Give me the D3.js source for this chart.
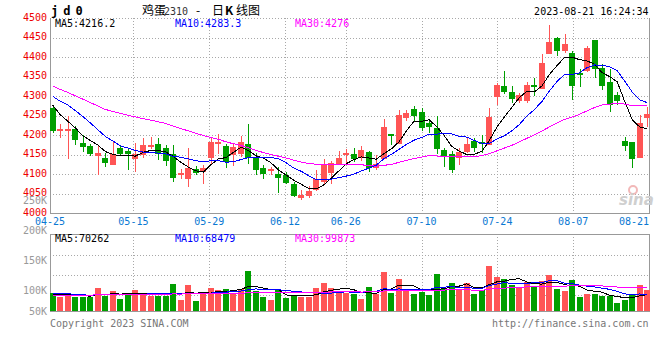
<!DOCTYPE html>
<html><head><meta charset="utf-8">
<script src="https://cdn.jsdelivr.net/npm/d3@7"></script>
<style>body{margin:0;background:#fff}svg{display:block}</style>
</head><body><svg id="c" width="660" height="360"></svg>
<script>
// ---------- data ----------
const dates = ['04-25','04-26','04-27','04-28','05-04','05-05','05-08','05-09','05-10','05-11','05-12',
 '05-15','05-16','05-17','05-18','05-19','05-22','05-23','05-24','05-25','05-26','05-29','05-30','05-31',
 '06-01','06-02','06-05','06-06','06-07','06-08','06-09','06-12','06-13','06-14','06-15','06-16',
 '06-19','06-20','06-21','06-26','06-27','06-28','06-29','06-30','07-03','07-04','07-05','07-06','07-07',
 '07-10','07-11','07-12','07-13','07-14','07-17','07-18','07-19','07-20','07-21','07-24','07-25','07-26',
 '07-27','07-28','07-31','08-01','08-02','08-03','08-04','08-07','08-08','08-09','08-10','08-11',
 '08-14','08-15','08-16','08-17','08-18','08-21'];
const open  = [4270,4210,4211,4217,4181,4173,4146,4142,4125,4168,4161,4138,4149,4169,4178,4168,4151,4100,4088,4114,
 4106,4142,4178,4173,4149,4151,4178,4144,4117,4111,4101,4098,4074,4038,4044,4061,4081,4104,4127,4146,
 4151,4141,4158,4115,4138,4201,4178,4245,4268,4260,4231,4219,4163,4151,4142,4158,4185,4179,4176,4298,
 4326,4311,4289,4289,4327,4320,4409,4450,4416,4412,4356,4364,4445,4373,4337,4303,4185,4183,4142,4245];
const high  = [4277,4229,4249,4223,4200,4178,4172,4154,4182,4176,4168,4180,4194,4195,4192,4176,4176,4114,4168,4121,
 4125,4193,4204,4178,4178,4197,4228,4154,4125,4120,4118,4106,4079,4060,4070,4112,4138,4134,4161,4164,
 4168,4173,4161,4149,4243,4204,4265,4265,4276,4269,4241,4250,4168,4161,4168,4192,4193,4200,4269,4335,
 4366,4326,4309,4337,4346,4409,4482,4452,4459,4416,4371,4428,4445,4382,4369,4311,4195,4183,4253,4272];
const low   = [4205,4192,4140,4176,4156,4146,4099,4120,4125,4146,4110,4105,4142,4164,4136,4122,4079,4089,4068,4097,
 4076,4125,4151,4117,4122,4144,4127,4099,4089,4099,4051,4075,4042,4033,4040,4057,4076,4074,4125,4123,
 4132,4135,4106,4110,4138,4176,4178,4236,4236,4212,4206,4151,4120,4104,4123,4155,4158,4155,4176,4277,
 4305,4283,4283,4283,4300,4318,4409,4403,4412,4291,4323,4362,4346,4315,4260,4277,4161,4115,4142,4221];
const close = [4212,4213,4213,4187,4170,4151,4154,4129,4152,4151,4151,4151,4176,4176,4152,4134,4091,4102,4115,4104,
 4116,4183,4179,4132,4170,4183,4142,4110,4101,4112,4091,4078,4044,4048,4057,4087,4127,4129,4142,4151,
 4138,4163,4115,4127,4221,4200,4252,4257,4250,4219,4222,4164,4144,4110,4158,4178,4168,4178,4248,4330,
 4310,4292,4303,4330,4322,4386,4440,4416,4433,4326,4355,4424,4371,4326,4277,4288,4172,4138,4231,4255];
const volume = [78400,61300,71300,61300,61300,61300,99800,64000,85600,51300,72700,89900,78400,64000,64000,64000,
 115500,47000,111000,42800,81300,99800,89900,94100,78400,94100,171000,85600,61300,47000,94100,57000,64000,
 61300,61300,99800,121000,99800,87000,75600,72700,51300,102700,72700,166900,77000,136900,85600,72700,79900,
 68500,158300,95500,119800,89900,119800,72700,89900,193900,145500,136900,111300,102700,125500,107000,128400,
 154000,94100,85600,132600,60000,72000,74000,64000,64000,36000,48000,68000,110000,89000];
// closes / volumes of the 29 sessions before 04-25 (estimated from where the MA lines start)
const priorClose = [4460,4450,4440,4430,4420,4410,4400,4300,4310,4290,4280,4300,4290,4280,4270,4290,4300,4280,
 4290,4290,4340,4310,4330,4320,4315,4333,4298,4272,4270];
const priorVolume = [60000,66000,62000,65000,64000,61000,67000,63000,60000,65000,64000,62000,66000,63000,65000,
 61000,64000,63000,66000,62000,85000,80000,84000,82000,84000,70000,68000,71000,67600];
const priceTicks = [4500,4450,4400,4350,4300,4250,4200,4150,4100,4050,4000];
const volTickValues = [250000,200000,150000,100000,50000];
const volTickLabels = ['250K','200K','150K','100K','50K'];
const dateTicks = ['04-25','05-15','05-29','06-12','06-26','07-10','07-24','08-07','08-21'];
const maPeriods = [5,10,30];
const priceLegend = ['MA5:4216.2','MA10:4283.3','MA30:4276'];
const volLegend = ['MA5:70262','MA10:68479','MA30:99873'];

// ---------- layout ----------
const svg = d3.select('#c');
const N = dates.length, P = priorClose.length;
const L = 50, R = 649;
const pTop = 18.3, pBot = 213.3, vTop = 234, vBot = 311;
const mono = '"DejaVu Sans Mono", monospace';
const RED = '#ff5555', GREEN = '#009f00';
const maColors = ['#000000', '#0000ff', '#ff00ff'];

const xs = d3.scaleLinear().domain([0, N - 1]).range([52.7, 647.3]); // candle centres
const xg = d3.scaleLinear().domain([0, N - 1]).range([L, R]);        // date grid
const yp = d3.scaleLinear().domain([4000, 4500]).range([pBot, pTop]);
const yv = d3.scaleLinear().domain([0, 329500]).range([vBot, vTop]);
const yvLab = d3.scaleLinear().domain([100000, 250000]).range([290.3, 200.3]);
const px = v => Math.round(v) + 0.5;

const grid = svg.append('g').attr('stroke', '#a8a8a8').attr('stroke-dasharray', '1,2')
  .attr('shape-rendering', 'crispEdges');
grid.selectAll('.hp').data(priceTicks.filter(t => t > 4000)).join('line')
  .attr('x1', L).attr('x2', R).attr('y1', d => px(yp(d))).attr('y2', d => px(yp(d)));
grid.selectAll('.hv').data([21, 41, 61]).join('line')
  .attr('x1', L).attr('x2', R).attr('y1', d => vTop + d + 0.5).attr('y2', d => vTop + d + 0.5);
const tickIdx = dateTicks.map(t => dates.indexOf(t));
tickIdx.forEach(i => {
  grid.append('line').attr('x1', px(xg(i))).attr('x2', px(xg(i))).attr('y1', pTop).attr('y2', pBot);
  grid.append('line').attr('x1', px(xg(i))).attr('x2', px(xg(i))).attr('y1', vTop).attr('y2', vBot);
});

// frames
const frame = svg.append('g').attr('stroke', '#999').attr('shape-rendering', 'crispEdges').attr('fill', 'none');
frame.append('line').attr('x1', L + 0.5).attr('x2', L + 0.5).attr('y1', pTop).attr('y2', pBot + 0.5);
frame.append('line').attr('x1', R + 0.5).attr('x2', R + 0.5).attr('y1', pTop).attr('y2', pBot + 0.5);
frame.append('line').attr('x1', L).attr('x2', R + 1).attr('y1', px(pBot)).attr('y2', px(pBot));
frame.append('rect').attr('x', L + 0.5).attr('y', vTop + 0.5).attr('width', R - L).attr('height', vBot - vTop);

// watermark
const wm = svg.append('g');
wm.append('circle').attr('cx', 633).attr('cy', 190).attr('r', 4).attr('fill', 'none')
  .attr('stroke', '#f2b8b8').attr('stroke-width', 2);
wm.append('text').attr('x', 619).attr('y', 205).text('sina').attr('font-family', 'DejaVu Sans')
  .attr('font-style', 'italic').attr('font-weight', 'bold').attr('font-size', 15).attr('fill', '#cfcfcf');

// axis labels
const lab = svg.append('g').attr('font-family', mono).attr('font-size', 10);
lab.selectAll('.pl').data(priceTicks).join('text')
  .attr('x', 47).attr('y', d => yp(d) + 2.6).attr('text-anchor', 'end').attr('fill', '#ee0000').text(d => d);
lab.selectAll('.vl').data(volTickValues).join('text')
  .attr('x', 47).attr('y', d => Math.min(yvLab(d), vBot) + 3.6).attr('text-anchor', 'end')
  .attr('fill', '#999').text((d, i) => volTickLabels[i]);
lab.selectAll('.dl').data(dateTicks).join('text')
  .attr('x', (d, i) => Math.min(xg(tickIdx[i]), R - 15))
  .attr('y', 225.3).attr('text-anchor', 'middle').attr('fill', '#0a78d2').text(d => d);

// candles
const bars = d3.range(N).map(i => ({ i, o: open[i], h: high[i], l: low[i], c: close[i], v: volume[i] }));
const col = d => d.c >= d.o ? RED : GREEN;
const cg = svg.append('g').attr('shape-rendering', 'crispEdges');
cg.selectAll('.w').data(bars).join('line')
  .attr('x1', d => Math.round(xs(d.i)) + 0.5).attr('x2', d => Math.round(xs(d.i)) + 0.5)
  .attr('y1', d => yp(d.h)).attr('y2', d => yp(d.l)).attr('stroke', col);
cg.selectAll('.b').data(bars).join('rect')
  .attr('x', d => Math.round(xs(d.i)) - 3).attr('width', 6)
  .attr('y', d => Math.min(yp(d.o), yp(d.c)) - (Math.abs(yp(d.o) - yp(d.c)) < 2 ? 1 : 0))
  .attr('height', d => Math.max(2, Math.abs(yp(d.o) - yp(d.c))))
  .attr('fill', col);
cg.selectAll('.v').data(bars).join('rect')
  .attr('x', d => Math.round(xs(d.i)) - 3).attr('width', 6)
  .attr('y', d => yv(d.v)).attr('height', d => vBot - yv(d.v)).attr('fill', col);

// moving averages
const fullClose = priorClose.concat(close), fullVol = priorVolume.concat(volume);
const ma = (arr, n) => d3.range(N).map(i => d3.mean(arr.slice(i + P - n + 1, i + P + 1)));
maPeriods.forEach((n, k) => {
  const pm = ma(fullClose, n), vm = ma(fullVol, n);
  svg.append('path').attr('fill', 'none').attr('stroke', maColors[k]).attr('shape-rendering', 'crispEdges')
    .attr('d', d3.line().x((d, i) => xs(i)).y(d => yp(d))(pm));
  svg.append('path').attr('fill', 'none').attr('stroke', maColors[k]).attr('shape-rendering', 'crispEdges')
    .attr('d', d3.line().x((d, i) => xs(i)).y(d => yv(d))(vm));
});

// legends
const lg = svg.append('g').attr('font-family', mono).attr('font-size', 10);
priceLegend.forEach((t, k) => lg.append('text').attr('x', 55 + k * 120).attr('y', 26.5).attr('fill', maColors[k]).text(t));
volLegend.forEach((t, k) => lg.append('text').attr('x', 55 + k * 120).attr('y', 242).attr('fill', maColors[k]).text(t));

// header & footer
svg.append('text').attr('x', 51).attr('y', 15).attr('font-family', mono).attr('font-weight', 'bold')
  .attr('font-size', 12).attr('letter-spacing', 5).attr('fill', '#000').text('jd0');
const tt = svg.append('text').attr('y', 15).attr('font-size', 12).attr('fill', '#000')
  .attr('font-family', '"Noto Sans CJK SC", sans-serif');
tt.append('tspan').attr('x', 142).text('鸡蛋');
tt.append('tspan').attr('x', 164).attr('font-family', mono).attr('font-size', 10).attr('fill', '#333').text('2310');
tt.append('tspan').attr('x', 196).text('-');
tt.append('tspan').attr('x', 212).text('日');
tt.append('tspan').attr('x', 225).attr('font-weight', 'bold').text('K');
tt.append('tspan').attr('x', 236).text('线图');
svg.append('text').attr('x', 648.5).attr('y', 15).attr('text-anchor', 'end').attr('font-family', mono)
  .attr('font-size', 10).attr('fill', '#000').text('2023-08-21 16:24:34');
svg.append('text').attr('x', 50).attr('y', 327).attr('font-family', mono).attr('font-size', 10)
  .attr('fill', '#777').text('Copyright 2023 SINA.COM');
svg.append('text').attr('x', 648.5).attr('y', 327).attr('text-anchor', 'end').attr('font-family', mono)
  .attr('font-size', 10).attr('fill', '#777').text('http://finance.sina.com.cn');
</script></body></html>
